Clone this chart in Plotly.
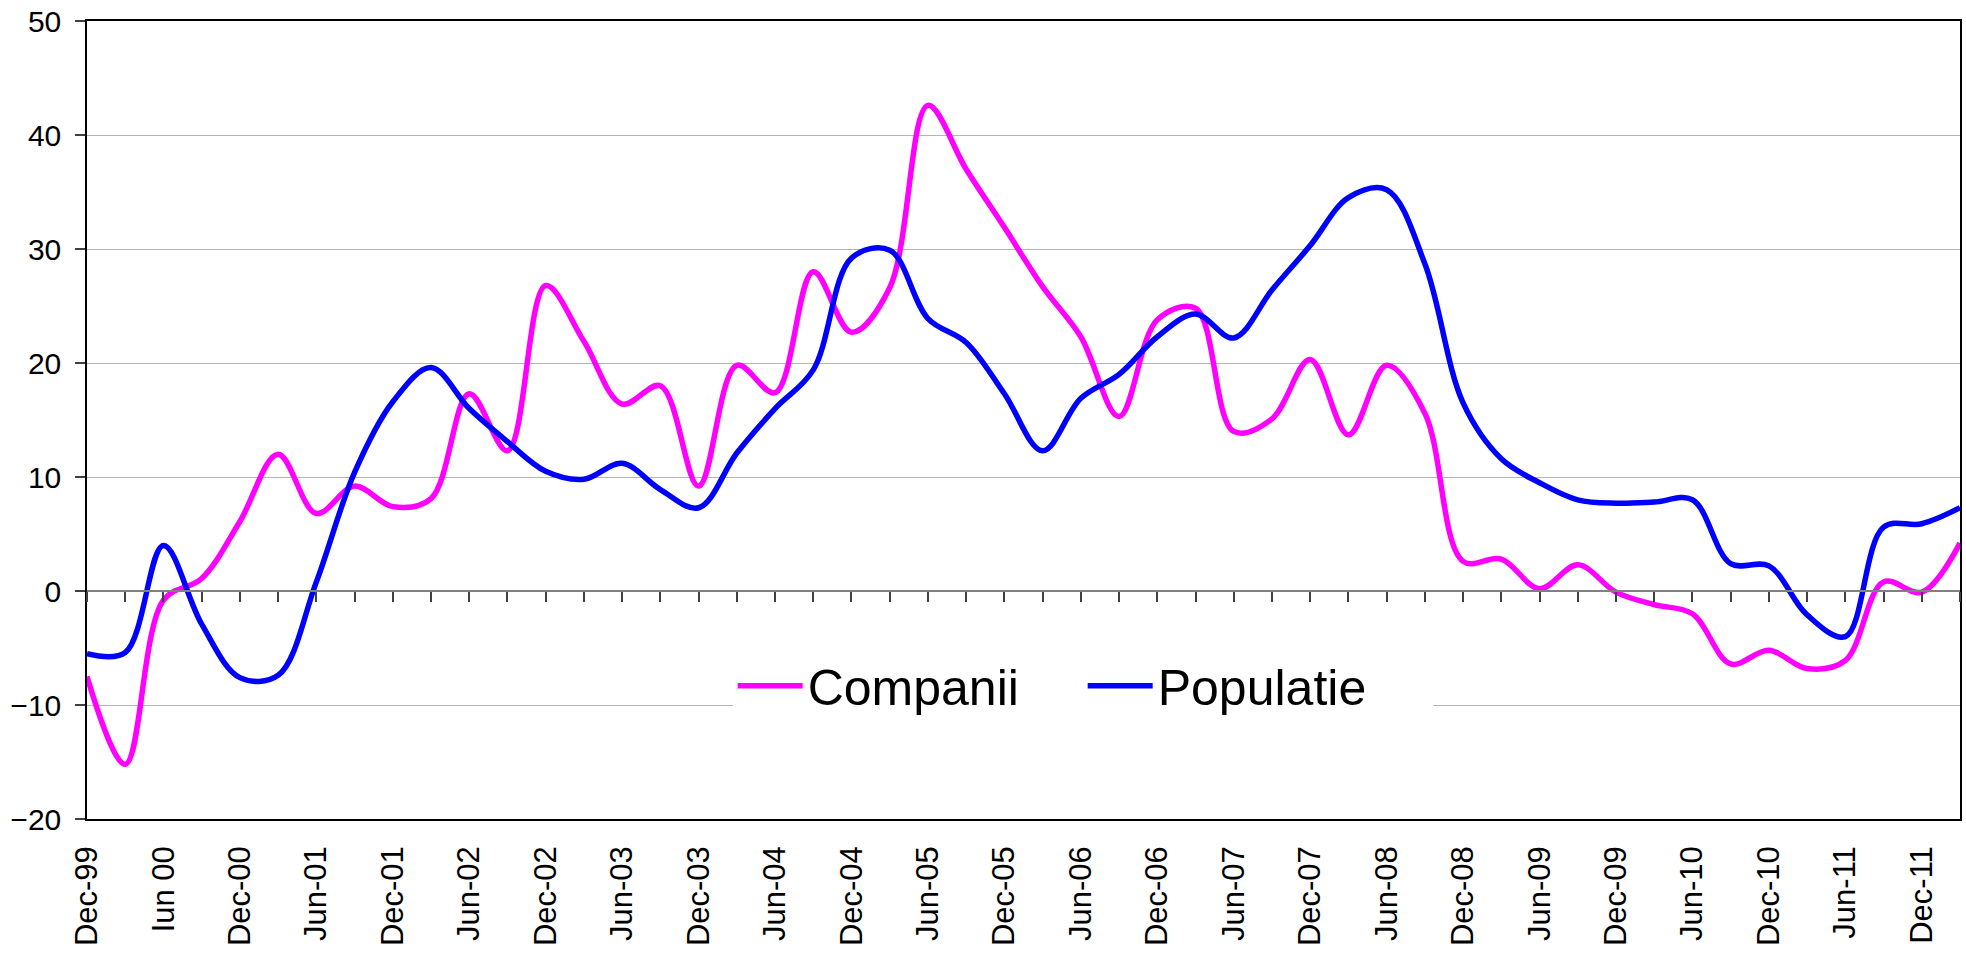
import plotly.graph_objects as go

# trimestre: Dec-99 ... Mar-12
trimestre = ["Dec-99", "Mar-00", "Iun 00", "Sep-00",
             "Dec-00", "Mar-01", "Jun-01", "Sep-01",
             "Dec-01", "Mar-02", "Jun-02", "Sep-02",
             "Dec-02", "Mar-03", "Jun-03", "Sep-03",
             "Dec-03", "Mar-04", "Jun-04", "Sep-04",
             "Dec-04", "Mar-05", "Jun-05", "Sep-05",
             "Dec-05", "Mar-06", "Jun-06", "Sep-06",
             "Dec-06", "Mar-07", "Jun-07", "Sep-07",
             "Dec-07", "Mar-08", "Jun-08", "Sep-08",
             "Dec-08", "Mar-09", "Jun-09", "Sep-09",
             "Dec-09", "Mar-10", "Jun-10", "Sep-10",
             "Dec-10", "Mar-11", "Jun-11", "Sep-11",
             "Dec-11", "Mar-12"]

# etichete afisate pe axa X (din sase in sase luni)
etichete_x = ["Dec-99", "Iun 00", "Dec-00", "Jun-01", "Dec-01", "Jun-02",
              "Dec-02", "Jun-03", "Dec-03", "Jun-04", "Dec-04", "Jun-05",
              "Dec-05", "Jun-06", "Dec-06", "Jun-07", "Dec-07", "Jun-08",
              "Dec-08", "Jun-09", "Dec-09", "Jun-10", "Dec-10", "Jun-11",
              "Dec-11"]

companii = [-7.5, -15.2, -0.8, 1.1, 6.1, 12.0, 6.8, 9.2, 7.4, 8.1,
            17.3, 12.3, 26.8, 21.9, 16.4, 18.0, 9.2, 19.8, 17.4, 28.0,
            22.7, 26.6, 42.6, 37.0, 31.9, 26.7, 22.3, 15.3, 23.8, 24.8,
            14.0, 15.1, 20.3, 13.7, 19.8, 15.6, 2.6, 2.8, 0.2, 2.3,
            -0.1, -1.2, -2.0, -6.4, -5.2, -6.8, -6.1, 0.8, -0.1, 4.2]

populatie = [-5.5, -5.4, 4.0, -2.9, -7.6, -7.4, 0.8, 10.4, 16.6, 19.6,
             16.0, 13.1, 10.5, 9.8, 11.2, 8.9, 7.3, 12.1, 16.0, 19.4,
             29.2, 29.9, 23.9, 21.8, 17.3, 12.3, 16.9, 19.0, 22.3, 24.3,
             22.2, 26.4, 30.3, 34.5, 35.2, 28.7, 16.5, 11.6, 9.5, 8.0,
             7.7, 7.8, 8.0, 2.4, 2.2, -2.1, -4.0, 5.6, 5.9, 7.3]

FONT = "Liberation Sans, Arial, sans-serif"

fig = go.Figure()

fig.add_trace(go.Scatter(
    x=trimestre, y=companii, name="Companii", mode="lines",
    line=dict(color="#FF00FF", width=5.5, shape="spline", smoothing=1),
))
fig.add_trace(go.Scatter(
    x=trimestre, y=populatie, name="Populatie", mode="lines",
    line=dict(color="#0000FF", width=5.5, shape="spline", smoothing=1),
))

n = len(trimestre)

fig.update_layout(
    width=1966, height=957,
    margin=dict(l=87, r=6, t=21, b=138, autoexpand=False),
    paper_bgcolor="white", plot_bgcolor="white",
    font=dict(family=FONT, color="black"),
    showlegend=True,
    legend=dict(
        orientation="h", x=0.5316, y=0.167,
        xanchor="center", yanchor="middle",
        bgcolor="white", font=dict(size=50, family=FONT),
        itemwidth=65, entrywidth=270, entrywidthmode="pixels",
    ),
    xaxis=dict(
        type="category", range=[0, n - 1], automargin=False,
        tickmode="array", tickvals=etichete_x, ticktext=etichete_x,
        tickangle=-90, tickfont=dict(size=31, family=FONT),
        ticks="", ticklabelstandoff=13,
        showgrid=False, zeroline=False,
        showline=True, linecolor="black", linewidth=1.5, mirror=True,
    ),
    # axa secundara doar pentru liniile de diviziune pe nivelul zero
    xaxis2=dict(
        overlaying="x", anchor="free", position=20 / 70,
        range=[0, n - 1], tickmode="linear", tick0=0, dtick=1,
        ticks="outside", ticklen=10, tickwidth=1.5, tickcolor="#404040",
        showticklabels=False, showgrid=False, zeroline=False,
        showline=True, linecolor="#808080", linewidth=2,
    ),
    yaxis=dict(
        range=[-20, 50], dtick=10, tick0=-20, automargin=False,
        tickfont=dict(size=30, family=FONT),
        ticks="outside", ticklen=10, tickwidth=1.5, tickcolor="#404040",
        ticklabelstandoff=8,
        showgrid=True, gridcolor="#B4B4B4", gridwidth=1,
        zeroline=False,
        showline=True, linecolor="black", linewidth=1.5, mirror=True,
    ),
)

# trasatura invizibila ca axa secundara sa fie desenata
fig.add_trace(go.Scatter(x=[0, n - 1], y=[None, None], xaxis="x2",
                         showlegend=False, hoverinfo="skip"))

# fara marginea implicita a paginii, figura incepe in coltul ferestrei
fig.write_html("out.html", config={"displayModeBar": False},
               post_script="document.body.style.margin='0';")
